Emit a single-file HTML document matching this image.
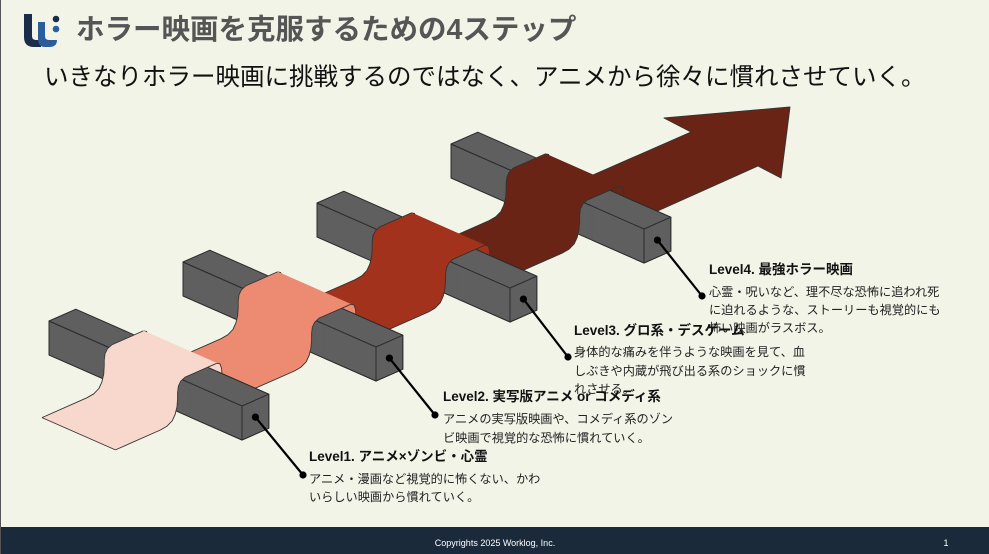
<!DOCTYPE html>
<html><head><meta charset="utf-8">
<style>
html,body{margin:0;padding:0}
body{width:989px;height:554px;overflow:hidden;background:#f3f4e8;position:relative;font-family:"Liberation Sans","Noto Sans CJK JP",sans-serif;border-left:1px solid #555;box-sizing:border-box}
.t{position:absolute;white-space:nowrap;color:#111}
.h{font-weight:bold;font-size:13.5px;line-height:18px}
.d{font-size:12.2px;line-height:18px;color:#222}
</style></head><body>
<svg width="989" height="554" style="position:absolute;left:0;top:0">
<g id="logo">
<path d="M23 14 L31 14 L31 36 Q31 40 35 40 L40 40 L40 47 L33 47 Q23 47 23 37 Z" fill="#1b2c4a"/>
<path d="M37 22 L44 22 L44 36 Q44 40 48 40 L56 40 Q56 47 48 47 L44 47 Q37 47 37 38 Z" fill="#2b5d9c"/>
<circle cx="55" cy="19" r="3.3" fill="#1b2c4a"/>
<circle cx="55" cy="29" r="3.3" fill="#2b5d9c"/>
</g>
<g id="dia"></g>
<rect x="0" y="527" width="989" height="27" fill="#1b2a3a"/>
<text x="494" y="546" font-size="9" fill="#fff" text-anchor="middle" font-family="Liberation Sans, sans-serif">Copyrights 2025 Worklog, Inc.</text>
<text x="945" y="546" font-size="9" fill="#fff" text-anchor="middle" font-family="Liberation Sans, sans-serif">1</text>
</svg>
<div class="t" style="left:75px;top:11px;font-size:28.5px;line-height:38px;font-weight:bold;color:#555">ホラー映画を克服するための4ステップ</div>
<div class="t" style="left:43px;top:61px;font-size:24.5px;line-height:33px;color:#111">いきなりホラー映画に挑戦するのではなく、アニメから徐々に慣れさせていく。</div>

<div class="t h" style="left:708px;top:261px">Level4. 最強ホラー映画</div>
<div class="t d" style="left:708px;top:283px">心霊・呪いなど、理不尽な恐怖に追われ死</div>
<div class="t d" style="left:708px;top:301px">に迫れるような、ストーリーも視覚的にも</div>
<div class="t d" style="left:708px;top:319px">怖い映画がラスボス。</div>

<div class="t h" style="left:573px;top:322px">Level3. グロ系・デスゲーム</div>
<div class="t d" style="left:573px;top:343px">身体的な痛みを伴うような映画を見て、血</div>
<div class="t d" style="left:573px;top:362px">しぶきや内蔵が飛び出る系のショックに慣</div>
<div class="t d" style="left:573px;top:380px">れさせる。</div>

<div class="t h" style="left:442px;top:388px">Level2. 実写版アニメ or コメディ系</div>
<div class="t d" style="left:442px;top:410px">アニメの実写版映画や、コメディ系のゾン</div>
<div class="t d" style="left:442px;top:429px">ビ映画で視覚的な恐怖に慣れていく。</div>

<div class="t h" style="left:308px;top:448px">Level1. アニメ×ゾンビ・心霊</div>
<div class="t d" style="left:308px;top:470px">アニメ・漫画など視覚的に怖くない、かわ</div>
<div class="t d" style="left:308px;top:488px">いらしい映画から慣れていく。</div>

<script>
(function(){
var NS="http://www.w3.org/2000/svg",g=document.getElementById("dia");
var O=[48,355],U=[26.8,-11.8],V=[193,85];
function P(a,b,z){return [O[0]+U[0]*a+V[0]*b,O[1]+U[1]*a+V[1]*b-z];}
function s(p){return p.map(function(q){return q[0].toFixed(1)+","+q[1].toFixed(1)}).join(" ");}
function el(n,at){var e=document.createElementNS(NS,n);for(var k in at)e.setAttribute(k,at[k]);g.appendChild(e);return e;}
function poly(p,f,st,w){el("polygon",{points:s(p),fill:f,stroke:st||"none","stroke-width":w||0,"stroke-linejoin":"round"});}
function line(p,st,w){el("polyline",{points:s(p),fill:"none",stroke:st,"stroke-width":w,"stroke-linejoin":"round"});}
var C=["#f8d8cc","#ec8b72","#a2321c","#692416"];
var B0=0.35,B1=0.73,H=34;
function bar(k,b0){var A=5*k,f="#5f5f5f",st="#2b2b2b";
 if(b0===0){
 poly([P(A,b0,0),P(A,1,0),P(A,1,H),P(A,b0,H)],f,st,1);
 poly([P(A,b0,H),P(A+1,b0,H),P(A+1,1,H),P(A,1,H)],f,st,1);
 }else{
 poly([P(A,b0,0),P(A,1,0),P(A,1,H),P(A,b0,H)],f,f,0.5);
 poly([P(A,b0,H),P(A+1,b0,H),P(A+1,1,H),P(A,1,H)],f,f,0.5);
 line([P(A,b0,0),P(A,1,0)],st,1);
 line([P(A,b0,H),P(A,1,H)],st,1);
 line([P(A+1,b0,H),P(A+1,1,H)],st,1);
 }
 poly([P(A,1,0),P(A+1,1,0),P(A+1,1,H),P(A,1,H)],f,st,1);}
function rib(pr,c,cap){var e1=pr.map(function(p){return P(p[0],B0,p[1])}),e2=pr.map(function(p){return P(p[0],B1,p[1])});
 poly(e1.concat(e2.slice().reverse()),c,c,0.6);line(e1,"#333",0.9);line(e2,"#333",0.9);
 if(cap)line([e1[0],e2[0]],"#333",0.9);}
var rise=[[-1.1,0],[-0.85,1],[-0.66,4],[-0.55,9],[-0.48,16],[-0.46,24],[-0.46,30],[-0.43,36],[-0.34,40],[-0.18,42],[1.0,42]];
var desc=[[1.0,42],[1.12,40],[1.18,35],[1.2,28],[1.2,10],[1.24,4],[1.35,1],[1.55,0],[1.95,0]];
function off(l,A){return l.map(function(p){return [p[0]+A,p[1]]});}
for(var k=3;k>=0;k--){var A=5*k;
 if(k==3){var a0=A+1.7;
  var pts=[P(a0,B0,0),[690,132],[663,118],[789,107],[780,178],[757,166],P(a0,B1,0)];
  poly(pts,C[3],"#333",0.9);}
 rib(off(desc,A),C[k]);
 bar(k,0);
 var start=(k==0)?-2.78:(5*(k-1)+1.8);
 rib([[start,0]].concat(off(rise,A)),C[k],k==0);
 bar(k,B1);
}
var L=[[0,[302,475]],[5,[434,415]],[10,[567,357]],[15,[701,296]]];
L.forEach(function(x){var p=P(x[0]+0.5,1,17);
 el("line",{x1:p[0],y1:p[1],x2:x[1][0],y2:x[1][1],stroke:"#000","stroke-width":2.2});
 el("circle",{cx:p[0],cy:p[1],r:3.6,fill:"#000"});
 el("circle",{cx:x[1][0],cy:x[1][1],r:3.6,fill:"#000"});});
})();
</script>
</body></html>
